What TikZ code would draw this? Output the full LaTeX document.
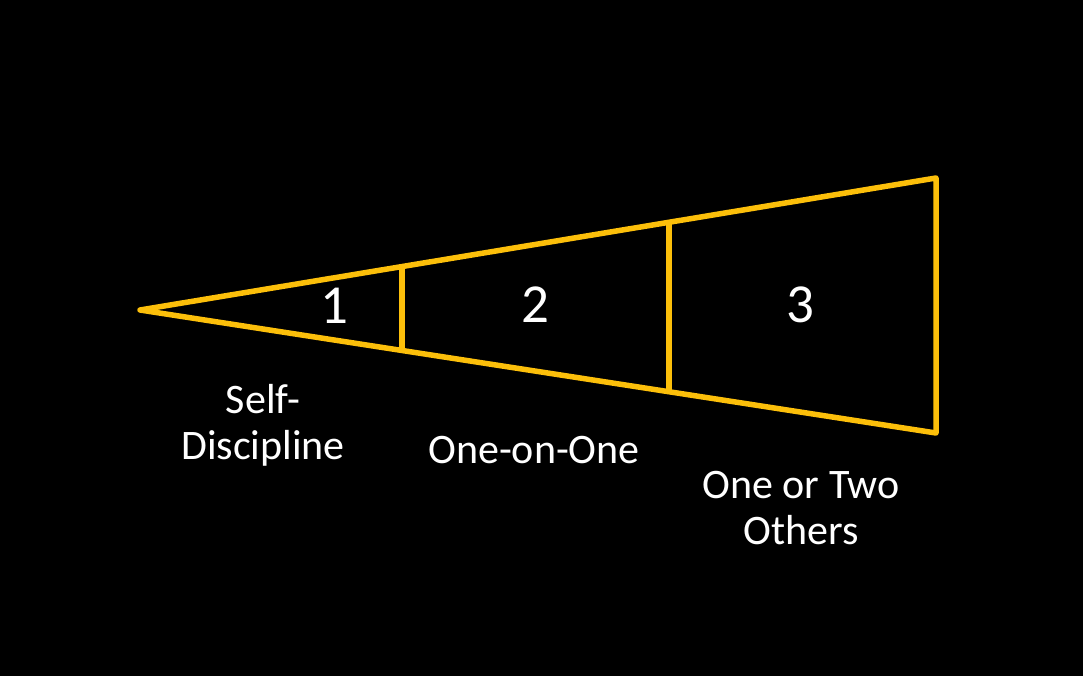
\documentclass[tikz,border=0pt]{standalone}
\usepackage{fontspec}
\setmainfont{Carlito}
\usepackage{xcolor}
\definecolor{gold}{HTML}{FCBF0A}
\definecolor{bgblack}{HTML}{000000}

\begin{document}
\begin{tikzpicture}[
    x=1pt, y=-1pt,
    frame/.style={draw=gold, line width=5.5pt, line join=round, line cap=round},
    num/.style={font=\fontsize{55}{60}\selectfont, text=white, inner sep=0pt, anchor=base},
    lbl/.style={font=\fontsize{42}{46}\selectfont, text=white, align=center, inner sep=0pt},
]

% Background
\fill[bgblack] (0,0) rectangle (1083,676);
\useasboundingbox (0,0) rectangle (1083,676);

% Corner points of the wedge
\coordinate (tip) at (140,310);
\coordinate (t1) at (402,267);
\coordinate (b1) at (402,350);
\coordinate (t2) at (669,223);
\coordinate (b2) at (669,391);
\coordinate (t3) at (936,178);
\coordinate (b3) at (936,433);

% Outline and dividers
\draw[frame] (tip) -- (t3) -- (b3) -- cycle;
\draw[frame] (t1) -- (b1);
\draw[frame] (t2) -- (b2);

% Section numbers
\node[num] (n1) at (334,323) {1};
\node[num] (n2) at (535,322) {2};
\node[num] (n3) at (800,322) {3};

% Labels
\node[lbl] (self) at (263,425) {Self-\\Discipline};
\node[lbl, anchor=base] (one) at (534,463) {One-on-One};
\node[lbl] (others) at (801,508) {One or Two\\Others};

\end{tikzpicture}
\end{document}
